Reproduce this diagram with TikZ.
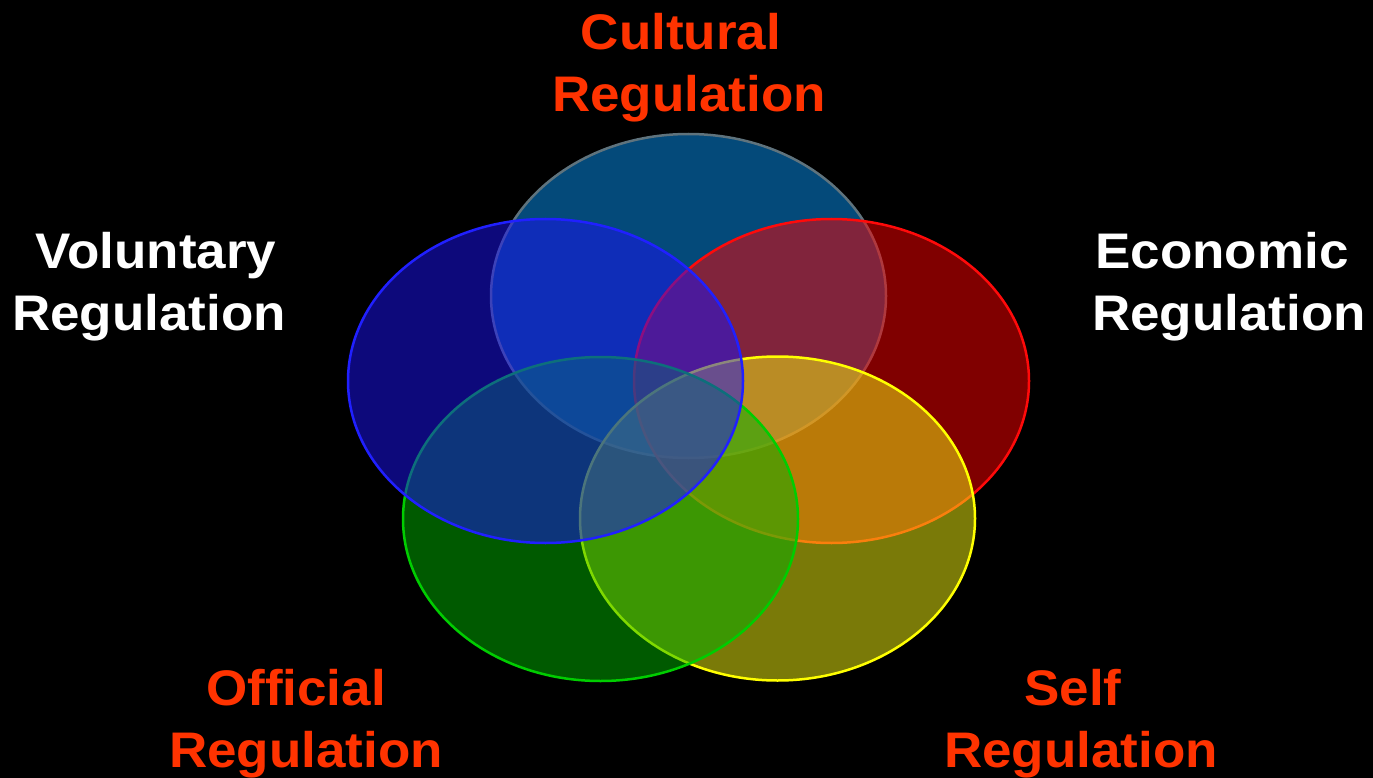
\documentclass[tikz,border=0pt]{standalone}
\usepackage{fontspec}
\setmainfont{Liberation Sans}
\newfontfamily\lblfont[FakeStretch=1.06]{Liberation Sans Bold}
\definecolor{lblred}{RGB}{255,51,0}
\definecolor{cultfill}{RGB}{8,148,244}
\definecolor{cultline}{RGB}{95,115,125}
\definecolor{volfill}{RGB}{26,18,246}
\definecolor{volline}{RGB}{32,32,255}
\definecolor{ecofill}{RGB}{255,0,0}
\definecolor{ecoline}{RGB}{255,10,10}
\definecolor{selffill}{RGB}{244,244,16}
\definecolor{selfline}{RGB}{255,255,0}
\definecolor{offfill}{RGB}{0,180,0}
\definecolor{offline}{RGB}{0,205,0}
\tikzset{
  venn/.style={line width=2.5pt, fill opacity=0.5, draw opacity=1},
  lbl/.style={anchor=base, inner sep=0pt, font=\lblfont\fontsize{50}{60}\selectfont},
  redlbl/.style={lbl, text=lblred},
  whitelbl/.style={lbl, text=white}
}
\begin{document}
\begin{tikzpicture}[x=1pt,y=-1pt]
\fill[black] (0,0) rectangle (1373,778);
\useasboundingbox (0,0) rectangle (1373,778);
% ellipses, bottom to top
\path[venn, draw=cultline, fill=cultfill] (688.5,296) ellipse [x radius=197.5pt, y radius=162pt];
\path[venn, draw=ecoline, fill=ecofill] (831.5,381) ellipse [x radius=197.5pt, y radius=162pt];
\path[venn, draw=selfline, fill=selffill] (777.5,518.5) ellipse [x radius=197.5pt, y radius=162pt];
\path[venn, draw=offline, fill=offfill] (600.5,519) ellipse [x radius=197.5pt, y radius=162pt];
\path[venn, draw=volline, fill=volfill] (545.5,381) ellipse [x radius=197.5pt, y radius=162pt];
% labels
\node[redlbl] (cult1) at (681,50) {Cultural};
\node[redlbl] (cult2) at (689,112) {Regulation};
\node[whitelbl] (vol1) at (156,268) {Voluntary};
\node[whitelbl] (vol2) at (149,330) {Regulation};
\node[whitelbl] (eco1) at (1222,268) {Economic};
\node[whitelbl] (eco2) at (1229,330) {Regulation};
\node[redlbl] (off1) at (296,705) {Official};
\node[redlbl] (off2) at (306,767) {Regulation};
\node[redlbl] (self1) at (1073,705) {Self};
\node[redlbl] (self2) at (1081,767) {Regulation};
\end{tikzpicture}
\end{document}
